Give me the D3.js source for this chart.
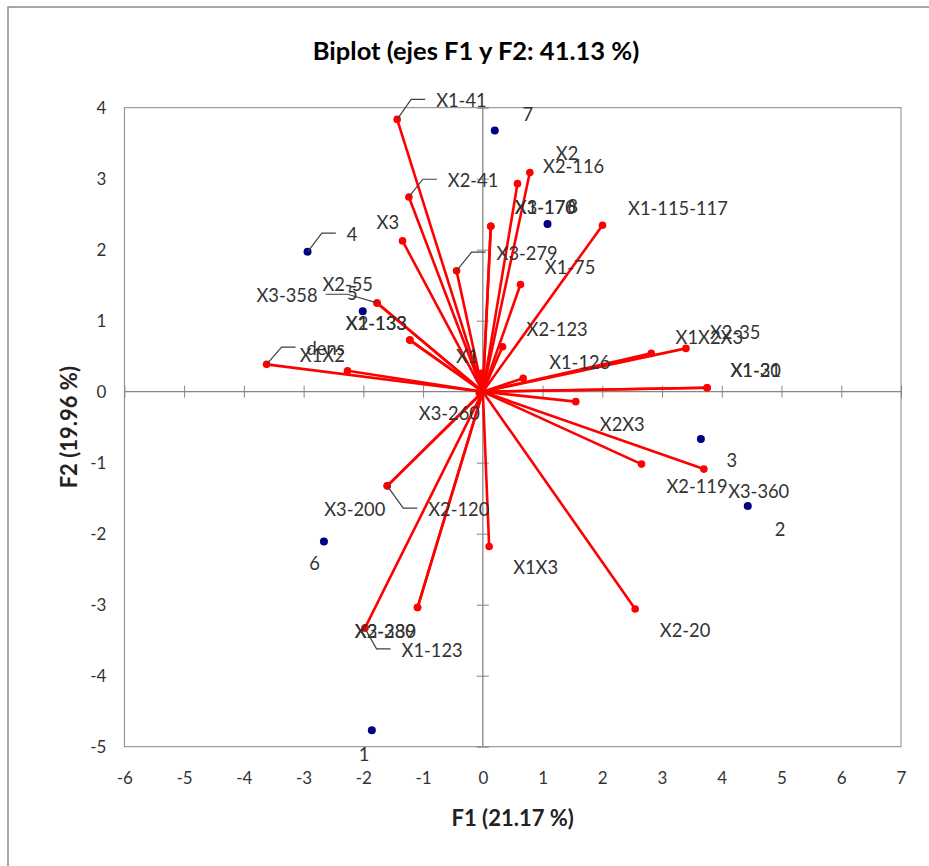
<!DOCTYPE html>
<html><head><meta charset="utf-8">
<script src="https://cdn.jsdelivr.net/npm/d3@7"></script>
<style>
html,body{margin:0;padding:0;background:#fff;}
svg{display:block;}
</style>
</head><body>
<svg id="chart" width="929" height="866"></svg>
<script>
// ---------- DATA ----------
const title = "Biplot (ejes F1 y F2: 41.13 %)";
const xTitle = "F1 (21.17 %)";
const yTitle = "F2 (19.96 %)";
const xTicks = [-6,-5,-4,-3,-2,-1,0,1,2,3,4,5,6,7];
const yTicks = [-5,-4,-3,-2,-1,0,1,2,3,4];

const varNames = ["X1-41","X2-41","X3","X3-279","X1-170","X3-176","X2-116","X2","X1-115-117","X1-75",
  "X2-123","X1-126","X1X2X3","X2-35","X1-30","X1-21","X2X3","X2-119","X3-360","X1X3",
  "X2-20","X3-200","X2-120","X2-380","X3-239","X1-123","X2-55","X3-358","X2-133","X1-133",
  "dens","X1X2","X1","X3-260"];
const varF1 = [-1.434,-1.238,-1.344,-0.440,0.134,0.134,0.580,0.787,2.003,0.630,
  0.330,0.675,2.820,3.400,3.754,3.754,1.556,2.656,3.700,0.106,
  2.550,-1.600,-1.600,-1.093,-1.093,-1.975,-1.770,-1.770,-1.222,-1.222,
  -3.620,-2.265,-0.020,-0.060];
const varF2 = [3.835,2.743,2.124,1.702,2.331,2.331,2.930,3.086,2.345,1.510,
  0.633,0.188,0.540,0.610,0.056,0.056,-0.140,-1.020,-1.090,-2.180,
  -3.060,-1.326,-1.326,-3.040,-3.040,-3.330,1.250,1.250,0.727,0.727,
  0.385,0.295,0.258,-0.020];

const obsNames = ["1","2","3","4","5","6","7","8"];
const obsF1 = [-1.858,4.435,3.650,-2.934,-2.010,-2.660,0.200,1.083];
const obsF2 = [-4.770,-1.610,-0.665,1.970,1.134,-2.110,3.680,2.363];

// ---------- LABEL LAYOUT (pixel offsets from the point; leader = connector line) ----------
const varLabelDx = [39,39,-26,40,24,24,25.6,26,25.6,24.3,
  24,26,24.3,24,23.4,23.4,24,25,24.3,24,
  24.7,-63,41,-62.7,-62.7,36.7,-54.6,-120.6,-64,-64,
  40,-47.7,-25.7,-60.4];
const varLabelDy = [-19,-16.7,-19,-17.7,-19.3,-19.3,-17.3,-19.6,-17.7,-17,
  -17.4,-16.6,-16,-16.6,-17.7,-17.7,22.6,21.7,22.4,20.6,
  21.4,23.3,23.3,23,23,21.7,-18.7,-7.7,-17.3,-17.3,
  -16.3,-15.7,-17.3,20.2];
const varLeader = ["X1-41","X2-41","X3-279","X2-120","X1-123","dens","X3-358"];
const obsLabelDx = [-13,27,25.7,39.3,-15.7,-14.7,27.7,20];
const obsLabelDy = [24,23.3,21,-17.7,-18,21,-16.7,-17.7];
const obsLeader = ["4"];

// ---------- DRAW ----------
const svg = d3.select("#chart");
const plot = {left:124.4, right:901, top:107.7, bottom:746.7};
const x = d3.scaleLinear().domain([-6,7]).range([plot.left, plot.right]);
const y = d3.scaleLinear().domain([-5,4]).range([plot.bottom, plot.top]);
const axisColor = "#868686";
const labelFont = "Lato, 'Open Sans', sans-serif";
const fmt = d => String(d);

// outer chart border
svg.append("rect").attr("x",8).attr("y",7).attr("width",1000).attr("height",1000)
  .attr("fill","none").attr("stroke","#8c8c8c").attr("stroke-width",1.5);

// title
svg.append("text").attr("x",476).attr("y",50).attr("text-anchor","middle")
  .attr("dominant-baseline","central")
  .attr("font-family",labelFont).attr("font-weight","bold").attr("font-size",25.5)
  .attr("fill","#000").text(title);

// plot frame
svg.append("rect").attr("x",plot.left).attr("y",plot.top)
  .attr("width",plot.right-plot.left).attr("height",plot.bottom-plot.top)
  .attr("fill","none").attr("stroke",axisColor).attr("stroke-width",1);

// zero axes with crossing ticks
const gx0 = svg.append("g").attr("transform",`translate(0,${y(0)-6})`)
  .call(d3.axisBottom(x).tickValues(xTicks).tickSize(12).tickFormat(""));
gx0.select(".domain").remove();
gx0.selectAll("line").attr("stroke",axisColor);
const gy0 = svg.append("g").attr("transform",`translate(${x(0)+6},0)`)
  .call(d3.axisLeft(y).tickValues(yTicks).tickSize(12).tickFormat(""));
gy0.select(".domain").remove();
gy0.selectAll("line").attr("stroke",axisColor);
svg.append("line").attr("x1",plot.left).attr("x2",plot.right).attr("y1",y(0)).attr("y2",y(0))
  .attr("stroke",axisColor).attr("stroke-width",1.3);
svg.append("line").attr("x1",x(0)).attr("x2",x(0)).attr("y1",plot.top).attr("y2",plot.bottom)
  .attr("stroke",axisColor).attr("stroke-width",1.3);

// tick labels
const gxl = svg.append("g").attr("transform",`translate(0,${plot.bottom})`)
  .call(d3.axisBottom(x).tickValues(xTicks).tickSize(0).tickPadding(25).tickFormat(fmt));
gxl.select(".domain").remove();
gxl.selectAll("text").attr("font-family",labelFont).attr("font-size",17).attr("fill","#333");
const gyl = svg.append("g").attr("transform",`translate(${plot.left},0)`)
  .call(d3.axisLeft(y).tickValues(yTicks).tickSize(0).tickPadding(18).tickFormat(fmt));
gyl.select(".domain").remove();
gyl.selectAll("text").attr("font-family",labelFont).attr("font-size",17).attr("fill","#333");

// axis titles
svg.append("text").attr("x",(plot.left+plot.right)/2).attr("y",817)
  .attr("text-anchor","middle").attr("dominant-baseline","central")
  .attr("font-family",labelFont).attr("font-weight","bold").attr("font-size",22)
  .attr("fill","#222").text(xTitle);
svg.append("text").attr("transform",`translate(68,${(plot.top+plot.bottom)/2}) rotate(-90)`)
  .attr("text-anchor","middle").attr("dominant-baseline","central")
  .attr("font-family",labelFont).attr("font-weight","bold").attr("font-size",22)
  .attr("fill","#222").text(yTitle);

// data rows
const vars = varNames.map((n,i)=>({name:n, f1:varF1[i], f2:varF2[i], dx:varLabelDx[i], dy:varLabelDy[i], leader:varLeader.includes(n)}));
const obs = obsNames.map((n,i)=>({name:n, f1:obsF1[i], f2:obsF2[i], dx:obsLabelDx[i], dy:obsLabelDy[i], leader:obsLeader.includes(n)}));

// vectors
svg.append("g").selectAll("line").data(vars).join("line")
  .attr("x1",x(0)).attr("y1",y(0))
  .attr("x2",d=>x(d.f1)).attr("y2",d=>y(d.f2))
  .attr("stroke","#ff0000").attr("stroke-width",2.6);
svg.append("g").selectAll("circle").data(vars).join("circle")
  .attr("cx",d=>x(d.f1)).attr("cy",d=>y(d.f2)).attr("r",3.8).attr("fill","#ff0000");

// observations
svg.append("g").selectAll("circle").data(obs).join("circle")
  .attr("cx",d=>x(d.f1)).attr("cy",d=>y(d.f2)).attr("r",4).attr("fill","#000080");

// labels + leaders
function drawLabels(rows){
  const g = svg.append("g");
  rows.forEach(d=>{
    const px = x(d.f1), py = y(d.f2);
    const lx = px + d.dx, ly = py + d.dy;
    const t = g.append("text").attr("x",lx).attr("y",ly).attr("dominant-baseline","central")
      .attr("font-family",labelFont).attr("font-size",18.3).attr("fill","#333").text(d.name);
    if(d.leader){
      let pts;
      if(d.dx > 0){
        const ex = lx - 11, ey = ly - 1;
        pts = [[px,py],[ex-14,ey],[ex,ey]];
      } else {
        const w = t.node().getComputedTextLength();
        const sx = lx + w + 8, sy = ly - 1;
        pts = [[sx,sy],[sx+22,sy],[px,py]];
      }
      g.append("path").attr("d",d3.line()(pts)).attr("fill","none")
        .attr("stroke","#404040").attr("stroke-width",1.2);
    }
  });
}
drawLabels(vars);
drawLabels(obs);
</script>
</body></html>
